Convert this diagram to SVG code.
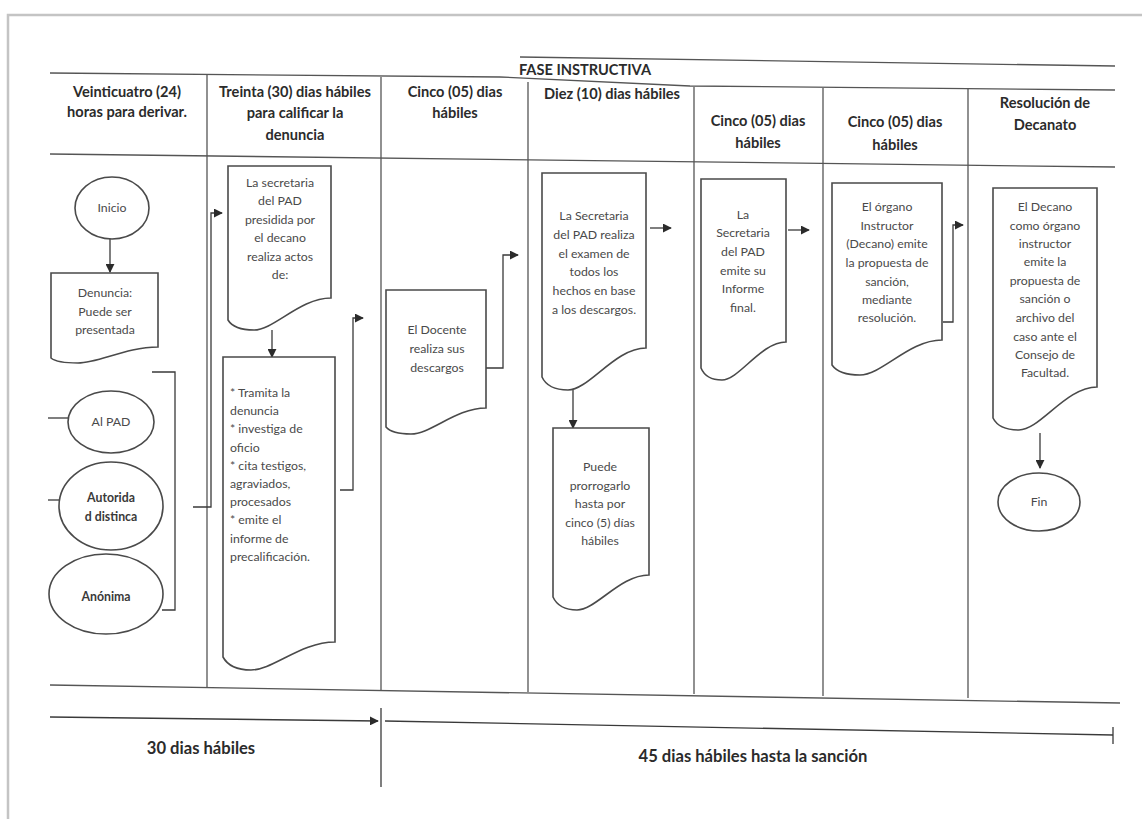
<svg xmlns="http://www.w3.org/2000/svg" width="1142" height="819" viewBox="0 0 1142 819">
<style>
.hd{font-family:Lato,"Liberation Sans",sans-serif;font-weight:700;font-size:14.6px;fill:#2b2b2b;text-anchor:middle}
.bt{font-family:Lato,"Liberation Sans",sans-serif;font-size:12.3px;fill:#4a4a4a;text-anchor:middle}
.bl{font-family:Lato,"Liberation Sans",sans-serif;font-size:12.3px;fill:#4a4a4a;text-anchor:start}
.bb{font-family:Lato,"Liberation Sans",sans-serif;font-size:12.3px;font-weight:700;fill:#3a3a3a;text-anchor:middle}
.ft{font-family:Lato,"Liberation Sans",sans-serif;font-weight:700;font-size:16.6px;fill:#2b2b2b;text-anchor:middle}
.shape{fill:#fff;stroke:#4a4a4a;stroke-width:1.6}
.grid{fill:none;stroke:#555;stroke-width:1.3}
.conn{fill:none;stroke:#3a3a3a;stroke-width:1.3}
</style>
<defs>
<marker id="ah" viewBox="0 0 10 10" refX="9" refY="5" markerWidth="9" markerHeight="9" markerUnits="userSpaceOnUse" orient="auto"><path d="M0,0 L10,5 L0,10 z" fill="#2b2b2b"/></marker>
</defs>
<rect x="0" y="0" width="1142" height="819" fill="#fff"/>
<rect x="8" y="15" width="1150" height="820" fill="none" stroke="#c4c4c4" stroke-width="2.5"/>

<g id="table">
<line class="grid" x1="520" y1="57" x2="1115" y2="66" stroke="#777"/>
<polyline class="grid" points="50,73 500,77 690,86 1115,90"/>
<line class="grid" x1="50" y1="154" x2="1115" y2="167"/>
<line class="grid" x1="50" y1="685" x2="1120" y2="703"/>
<line class="grid" x1="207" y1="74" x2="207" y2="687"/>
<line class="grid" x1="381" y1="77" x2="381" y2="690"/>
<line class="grid" x1="528" y1="82" x2="528" y2="692"/>
<line class="grid" x1="694" y1="87" x2="694" y2="694"/>
<line class="grid" x1="823" y1="88" x2="823" y2="696"/>
<line class="grid" x1="968" y1="89" x2="968" y2="698"/>
<text class="hd" x="585" y="75">FASE INSTRUCTIVA</text>
<text class="hd" x="127" y="97">Veinticuatro (24)</text>
<text class="hd" x="127" y="117">horas para derivar.</text>
<text class="hd" x="295" y="97">Treinta (30) dias hábiles</text>
<text class="hd" x="295" y="118">para calificar la</text>
<text class="hd" x="295" y="140">denuncia</text>
<text class="hd" x="455" y="97">Cinco (05) dias</text>
<text class="hd" x="455" y="118">hábiles</text>
<text class="hd" x="612" y="99">Diez (10) dias hábiles</text>
<text class="hd" x="758" y="126">Cinco (05) dias</text>
<text class="hd" x="758" y="148">hábiles</text>
<text class="hd" x="895" y="127">Cinco (05) dias</text>
<text class="hd" x="895" y="150">hábiles</text>
<text class="hd" x="1045" y="108">Resolución de</text>
<text class="hd" x="1045" y="130">Decanato</text>
</g>

<g id="connectors">
<line class="conn" x1="110" y1="238" x2="110" y2="272" marker-end="url(#ah)"/>
<polyline class="conn" points="152,372 175,372 175,610 162,610"/>
<line class="conn" x1="48" y1="418" x2="68" y2="418"/>
<line class="conn" x1="48" y1="500" x2="59" y2="500"/>
<polyline class="conn" points="193,507 211,507 211,213 222,213" marker-end="url(#ah)"/>
<line class="conn" x1="272" y1="330" x2="272" y2="357" marker-end="url(#ah)"/>
<polyline class="conn" points="340,490 353,490 353,318 363,318" marker-end="url(#ah)"/>
<polyline class="conn" points="486,368 503,368 503,255 518,255" marker-end="url(#ah)"/>
<line class="conn" x1="573" y1="390" x2="573" y2="428" marker-end="url(#ah)"/>
<line class="conn" x1="650" y1="228" x2="671" y2="228" marker-end="url(#ah)"/>
<line class="conn" x1="788" y1="230" x2="809" y2="230" marker-end="url(#ah)"/>
<polyline class="conn" points="943,322 953,322 953,225 963,225" marker-end="url(#ah)"/>
<line class="conn" x1="1040" y1="433" x2="1040" y2="468" marker-end="url(#ah)"/>
</g>

<g id="inicio">
<ellipse class="shape" cx="112" cy="208" rx="37" ry="31"/>
<text class="bt" x="112" y="212">Inicio</text>
</g>
<g id="denuncia">
<path class="shape" d="M51,273 H158 V347 C126,347 99,363 78,363 Q57,363 51,358 Z"/>
<text class="bt" x="105" y="297">Denuncia:</text>
<text class="bt" x="105" y="316">Puede ser</text>
<text class="bt" x="105" y="334">presentada</text>
</g>
<g id="al-pad">
<ellipse class="shape" cx="111" cy="422" rx="43" ry="31"/>
<text class="bt" x="111" y="426">Al PAD</text>
</g>
<g id="autoridad">
<ellipse class="shape" cx="111" cy="506" rx="52" ry="44"/>
<text class="bb" x="111" y="502">Autorida</text>
<text class="bb" x="111" y="521">d distinca</text>
</g>
<g id="anonima">
<ellipse class="shape" cx="106" cy="594" rx="57" ry="40"/>
<text class="bb" x="106" y="601">Anónima</text>
</g>

<g id="secretaria-pad">
<path class="shape" d="M228,166 H331 V298 C300,298 274,330 254,330 Q234,330 228,320 Z"/>
<text class="bt" x="280" y="187">La secretaria</text>
<text class="bt" x="280" y="205">del PAD</text>
<text class="bt" x="280" y="224">presidida por</text>
<text class="bt" x="280" y="242">el decano</text>
<text class="bt" x="280" y="261">realiza actos</text>
<text class="bt" x="280" y="279">de:</text>
</g>
<g id="actos">
<path class="shape" d="M223,357 H335 V642 C301,642 273,670 251,670 Q230,670 223,657 Z"/>
<text class="bl" x="230" y="397">* Tramita la</text>
<text class="bl" x="230" y="415">denuncia</text>
<text class="bl" x="230" y="433">* investiga de</text>
<text class="bl" x="230" y="452">oficio</text>
<text class="bl" x="230" y="470">* cita testigos,</text>
<text class="bl" x="230" y="488">agraviados,</text>
<text class="bl" x="230" y="506">procesados</text>
<text class="bl" x="230" y="524">* emite el</text>
<text class="bl" x="230" y="543">informe de</text>
<text class="bl" x="230" y="561">precalificación.</text>
</g>

<g id="descargos">
<path class="shape" d="M386,290 H486 V408 C456,408 431,434 411,434 Q392,434 386,427 Z"/>
<text class="bt" x="437" y="334">El Docente</text>
<text class="bt" x="437" y="353">realiza sus</text>
<text class="bt" x="437" y="372">descargos</text>
</g>

<g id="examen">
<path class="shape" d="M542,173 H646 V348 C615,348 589,390 568,390 Q548,390 542,377 Z"/>
<text class="bt" x="594" y="220">La Secretaria</text>
<text class="bt" x="594" y="239">del PAD realiza</text>
<text class="bt" x="594" y="258">el examen de</text>
<text class="bt" x="594" y="276">todos los</text>
<text class="bt" x="594" y="295">hechos en base</text>
<text class="bt" x="594" y="314">a los descargos.</text>
</g>
<g id="prorroga">
<path class="shape" d="M553,428 H649 V575 C620,575 596,610 577,610 Q559,610 553,597 Z"/>
<text class="bt" x="600" y="471">Puede</text>
<text class="bt" x="600" y="490">prorrogarlo</text>
<text class="bt" x="600" y="508">hasta por</text>
<text class="bt" x="600" y="527">cinco (5) días</text>
<text class="bt" x="600" y="545">hábiles</text>
</g>

<g id="informe-final">
<path class="shape" d="M701,179 H786 V342 C761,342 739,380 722,380 Q706,380 701,368 Z"/>
<text class="bt" x="743" y="219">La</text>
<text class="bt" x="743" y="237">Secretaria</text>
<text class="bt" x="743" y="256">del PAD</text>
<text class="bt" x="743" y="275">emite su</text>
<text class="bt" x="743" y="293">Informe</text>
<text class="bt" x="743" y="312">final.</text>
</g>

<g id="propuesta">
<path class="shape" d="M832,183 H942 V340 C909,340 882,375 860,375 Q839,375 832,365 Z"/>
<text class="bt" x="887" y="211">El órgano</text>
<text class="bt" x="887" y="230">Instructor</text>
<text class="bt" x="887" y="248">(Decano) emite</text>
<text class="bt" x="887" y="267">la propuesta de</text>
<text class="bt" x="887" y="286">sanción,</text>
<text class="bt" x="887" y="304">mediante</text>
<text class="bt" x="887" y="322">resolución.</text>
</g>

<g id="decano">
<path class="shape" d="M993,188 H1097 V387 C1066,387 1040,430 1019,430 Q999,430 993,418 Z"/>
<text class="bt" x="1045" y="211">El Decano</text>
<text class="bt" x="1045" y="230">como órgano</text>
<text class="bt" x="1045" y="248">instructor</text>
<text class="bt" x="1045" y="266">emite la</text>
<text class="bt" x="1045" y="285">propuesta de</text>
<text class="bt" x="1045" y="303">sanción o</text>
<text class="bt" x="1045" y="322">archivo del</text>
<text class="bt" x="1045" y="341">caso ante el</text>
<text class="bt" x="1045" y="359">Consejo de</text>
<text class="bt" x="1045" y="377">Facultad.</text>
</g>
<g id="fin">
<ellipse class="shape" cx="1039" cy="502" rx="41" ry="29"/>
<text class="bt" x="1039" y="506">Fin</text>
</g>

<g id="timeline">
<line class="conn" x1="50" y1="717" x2="378" y2="721" stroke-width="1.6" marker-end="url(#ah)"/>
<line class="conn" x1="385" y1="721" x2="1113" y2="735" stroke-width="1.6"/>
<line class="conn" x1="1113" y1="727" x2="1113" y2="744" stroke-width="1.6"/>
<line class="conn" x1="381" y1="708" x2="381" y2="787"/>
<text class="ft" x="201" y="754">30 dias hábiles</text>
<text class="ft" x="753" y="762">45 dias hábiles hasta la sanción</text>
</g>
</svg>
